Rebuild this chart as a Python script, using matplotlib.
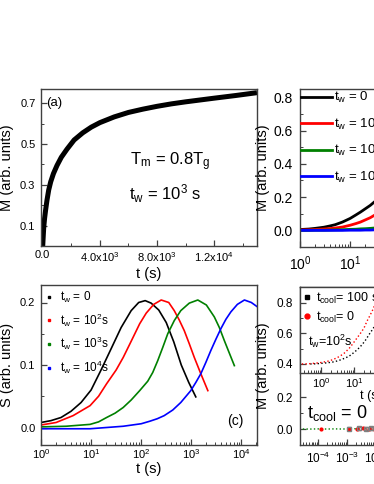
import matplotlib
matplotlib.use('Agg')
import matplotlib.pyplot as plt
from matplotlib.lines import Line2D
from matplotlib.ticker import FixedLocator, FixedFormatter, MultipleLocator, LogLocator

plt.rcParams['font.family'] = ['Liberation Sans', 'DejaVu Sans']
plt.rcParams['mathtext.fontset'] = 'custom'
plt.rcParams['mathtext.rm'] = 'Liberation Sans'
plt.rcParams['mathtext.it'] = 'Liberation Sans'
plt.rcParams['mathtext.default'] = 'regular'

# ---- panel (a): M vs t, linear ----
a_t = [0, 30, 70, 130, 200, 300, 420, 560, 750, 1000, 1300, 1700, 2200, 2800, 3400, 4000,
       5000, 6000, 7000, 8000, 9000, 10000, 11000, 12000, 13500, 15000]
a_m = [0.0, 0.04, 0.09, 0.135, 0.175, 0.225, 0.275, 0.315, 0.355, 0.395, 0.435, 0.475, 0.52,
       0.555, 0.583, 0.605, 0.633, 0.655, 0.671, 0.685, 0.697, 0.707, 0.716, 0.725, 0.738, 0.752]
a_xticks = [0, 4000, 8000, 12000]
a_xlabels = ['0.0', r'4.0x10$^3$', r'8.0x10$^3$', r'1.2x10$^4$']
a_yticks = [0.1, 0.3, 0.5, 0.7]

# ---- panel (b): M vs t for several t_w ----
b_t = [1, 1.5, 2, 3, 4, 5, 7, 10, 13, 16, 20, 25, 30, 40, 50, 70, 100, 300, 1000, 3000, 10000, 20000]
b_m0 = [0.005, 0.008, 0.012, 0.019, 0.027, 0.034, 0.05, 0.072, 0.093, 0.11, 0.13, 0.15, 0.17,
        0.2, 0.23, 0.28, 0.33, 0.5, 0.65, 0.72, 0.76, 0.77]
b_m2 = [0.002, 0.003, 0.005, 0.008, 0.011, 0.014, 0.02, 0.031, 0.041, 0.05, 0.063, 0.076, 0.09,
        0.11, 0.13, 0.17, 0.22, 0.4, 0.58, 0.68, 0.73, 0.75]
b_m3 = [0.0, 0.0, 0.001, 0.001, 0.002, 0.003, 0.004, 0.006, 0.007, 0.009, 0.01, 0.012, 0.014,
        0.018, 0.022, 0.03, 0.04, 0.1, 0.25, 0.45, 0.6, 0.65]
b_m4 = [0.0, 0.0, 0.0, 0.0, 0.0, 0.0, 0.0, 0.001, 0.001, 0.001, 0.002, 0.002, 0.003,
        0.004, 0.005, 0.007, 0.01, 0.025, 0.07, 0.17, 0.35, 0.45]
b_yticks = [0.0, 0.2, 0.4, 0.6, 0.8]

# ---- panel (c): S = dM/dlog t ----
c_t0 = [1, 1.58, 2.51, 3.98, 6.31, 10, 15.8, 25.1, 39.8, 63.1, 89.1, 120, 158, 224, 316, 447,
        631, 891, 1230]
c_s0 = [0.008, 0.011, 0.016, 0.026, 0.04, 0.06, 0.092, 0.126, 0.16, 0.187, 0.2, 0.203, 0.199,
        0.188, 0.168, 0.137, 0.1, 0.072, 0.049]
c_t2 = [1, 2, 4.37, 9.55, 14.1, 20.4, 31.6, 43.7, 63.1, 93.3, 126, 178, 251, 355, 457, 575,
        724, 912, 1150, 1550, 2140]
c_s2 = [0.004, 0.008, 0.019, 0.035, 0.05, 0.07, 0.092, 0.112, 0.138, 0.166, 0.183, 0.197,
        0.204, 0.2, 0.187, 0.172, 0.155, 0.134, 0.112, 0.086, 0.059]
c_t3 = [1, 3.16, 9.55, 14.1, 20.4, 30.2, 43.7, 63.1, 93.3, 135, 170, 214, 269, 339, 457, 617,
        912, 1350, 2000, 2880, 3630, 4570, 5750, 7240]
c_s3 = [0.001, 0.002, 0.005, 0.009, 0.016, 0.023, 0.032, 0.044, 0.059, 0.074, 0.088, 0.107,
        0.128, 0.15, 0.171, 0.187, 0.199, 0.204, 0.196, 0.177, 0.16, 0.139, 0.119, 0.099]
c_t4 = [1, 9.55, 43.7, 100, 148, 209, 288, 427, 617, 977, 1230, 1550, 1950, 2450, 3090, 3890,
        4900, 6170, 8320, 11500, 15800, 20900]
c_s4 = [-0.002, -0.002, 0.002, 0.006, 0.01, 0.014, 0.019, 0.028, 0.04, 0.059, 0.072, 0.086,
        0.104, 0.123, 0.141, 0.158, 0.173, 0.185, 0.197, 0.204, 0.2, 0.193]
c_yticks = [0.0, 0.1, 0.2]

tw_labels = [r'$t_w$ = 0', r'$t_w$ = 10$^2$s', r'$t_w$ = 10$^3$s', r'$t_w$ = 10$^4$s']
tw_colors = ['black', 'red', 'green', 'blue']

# ---- panel (d): t_cool = 0 data near zero, inset with t_cool comparison ----
d_green_t = [3e-5, 6e-5, 1e-4, 2e-4, 4e-4, 7e-4, 1e-3, 2e-3, 4e-3, 7e-3, 1e-2, 3e-2, 1e-1]
d_green_m = [0.0, 0.0, 0.001, 0.0, 0.001, 0.0, 0.001, 0.002, 0.001, 0.002, 0.001, 0.002, 0.001]
d_red_t = [1.3e-4, 1.2e-3, 2.2e-3, 3.5e-3, 6e-3, 9e-3, 2e-2]
d_red_m = [0.0, 0.003, -0.002, 0.004, 0.001, 0.003, 0.002]
d_sq_t = [1.2e-3, 2.6e-3, 4.5e-3, 7e-3, 1.3e-2]
d_sq_m = [0.003, 0.004, 0.002, 0.005, 0.003]
d_sq_err = [0.008, 0.008, 0.008, 0.008, 0.008]
d_yticks = [0.0, 0.2]

ins_t_red = [0.26, 0.4, 0.6, 0.9, 1.17, 1.6, 2.2, 3, 3.8, 5, 7, 9, 12, 15, 18, 21, 24, 30, 38,
             50, 70, 100]
ins_m_red = [0.400, 0.401, 0.404, 0.408, 0.412, 0.418, 0.427, 0.44, 0.452, 0.47, 0.5, 0.53,
             0.567, 0.595, 0.62, 0.645, 0.675, 0.715, 0.76, 0.83, 0.9, 0.95]
ins_t_blk = [0.47, 0.7, 1.17, 1.6, 2.2, 3, 3.8, 5, 7, 9, 12, 15, 18, 21, 24, 30, 38, 50, 70, 100]
ins_m_blk = [0.400, 0.401, 0.405, 0.408, 0.412, 0.419, 0.426, 0.436, 0.45, 0.468, 0.49, 0.51,
             0.53, 0.548, 0.567, 0.6, 0.632, 0.68, 0.75, 0.82]
ins_yticks = [0.4, 0.6, 0.8]

SPINE = '#404040'
W, H = 374, 484


def style(ax, size, pad_x=3, pad_y=4):
    for s in ax.spines.values():
        s.set_color(SPINE)
        s.set_linewidth(1.0)
    ax.tick_params(which='both', direction='in', color=SPINE, top=False, right=False)
    ax.tick_params(which='major', length=4, width=0.9, labelsize=size)
    ax.tick_params(axis='x', pad=pad_x)
    ax.tick_params(axis='y', pad=pad_y)
    ax.tick_params(which='minor', length=2, width=0.7)


def log_ticks(ax):
    ax.xaxis.set_major_locator(LogLocator(base=10, numticks=20))
    ax.xaxis.set_minor_locator(LogLocator(base=10, subs=range(2, 10), numticks=20))


def box(l, t, r, b):
    # pixel box (top-down) -> figure fraction
    return [l / W, 1 - b / H, (r - l) / W, (b - t) / H]


fig = plt.figure(figsize=(W / 100, H / 100), dpi=100)

# (a)
ax = fig.add_axes(box(41, 89, 257, 246))
ax.plot(a_t, a_m, color='black', lw=3.6, solid_capstyle='butt')
ax.set_xlim(-120, 15000)
ax.set_ylim(0, 0.77)
ax.xaxis.set_major_locator(FixedLocator(a_xticks))
ax.xaxis.set_major_formatter(FixedFormatter(a_xlabels))
ax.xaxis.set_minor_locator(MultipleLocator(2000))
ax.yaxis.set_major_locator(FixedLocator(a_yticks))
ax.yaxis.set_minor_locator(MultipleLocator(0.1))
style(ax, 8)
ax.set_xlabel('t (s)', fontsize=10.5, labelpad=2)
ax.set_ylabel('M (arb. units)', fontsize=10.5)
ax.yaxis.set_label_coords(-0.125, 0.5)
ax.text(0.026, 0.91, '(a)', transform=ax.transAxes, fontsize=9.5, va='center')
ax.text(0.597, 0.537, r'$T_m$ = 0.8$T_g$', transform=ax.transAxes, fontsize=12, ha='center', va='center')
ax.text(0.574, 0.336, r'$t_w$ = 10$^3$ s', transform=ax.transAxes, fontsize=12, ha='center', va='center')

# (b)
ax = fig.add_axes(box(300, 89, 516, 247))
for m, c, lab in zip([b_m0, b_m2, b_m3, b_m4], tw_colors, tw_labels):
    ax.plot(b_t, m, color=c, lw=2, label=lab)
ax.set_xscale('log')
log_ticks(ax)
ax.set_xlim(1, 2e4)
ax.set_ylim(-0.1, 0.85)
ax.yaxis.set_major_locator(FixedLocator(b_yticks))
ax.yaxis.set_minor_locator(MultipleLocator(0.1))
style(ax, 10, pad_x=5, pad_y=5)
ax.set_ylabel('M (arb. units)', fontsize=10.5)
ax.yaxis.set_label_coords(-0.14, 0.5)
ax.legend(loc='upper left', bbox_to_anchor=(0, 1), frameon=False, fontsize=9.5,
          borderaxespad=0, borderpad=0.1, handlelength=2.3, handletextpad=0.2,
          labelspacing=0.7)

# (c)
ax = fig.add_axes(box(41, 285, 257, 445))
for tt, ss, c in zip([c_t0, c_t2, c_t3, c_t4], [c_s0, c_s2, c_s3, c_s4], tw_colors):
    ax.plot(tt, ss, color=c, lw=1.2)
ax.set_xscale('log')
log_ticks(ax)
ax.set_xlim(1, 2.05e4)
ax.set_ylim(-0.028, 0.228)
ax.yaxis.set_major_locator(FixedLocator(c_yticks))
ax.yaxis.set_minor_locator(MultipleLocator(0.05))
style(ax, 8, pad_x=1.5)
ax.set_xlabel('t (s)', fontsize=10.5, labelpad=1)
ax.set_ylabel('S (arb. units)', fontsize=10.5)
ax.yaxis.set_label_coords(-0.125, 0.5)
handles = [Line2D([], [], ls='none', marker='s', ms=2, color=c) for c in tw_colors]
ax.legend(handles, tw_labels, loc='upper left', bbox_to_anchor=(0, 1), frameon=False,
          fontsize=8.5, borderaxespad=0, borderpad=0.4, handlelength=0.5,
          handletextpad=0.7, labelspacing=0.55)
ax.text(0.90, 0.152, '(c)', transform=ax.transAxes, fontsize=10, ha='center', va='center')

# (d)
ax = fig.add_axes(box(300, 287, 516, 445))
ax.plot(d_green_t, d_green_m, color='green', lw=1, ls=':')
ax.errorbar(d_sq_t, d_sq_m, yerr=d_sq_err, ls='none', marker='s', ms=3.5, mfc='none',
            mec='#808080', ecolor='#808080', elinewidth=0.8, capsize=1.5)
ax.plot(d_red_t, d_red_m, ls='none', marker='o', ms=2, color='red')
ax.set_xscale('log')
log_ticks(ax)
ax.set_xlim(2.4e-5, 7e2)
ax.set_ylim(-0.1, 0.89)
ax.yaxis.set_major_locator(FixedLocator(d_yticks))
ax.yaxis.set_minor_locator(FixedLocator([0.1]))
style(ax, 8.5, pad_x=4, pad_y=5)
ax.set_ylabel('M (arb. units)', fontsize=10.5)
ax.yaxis.set_label_coords(-0.14, 0.5)
ax.text(0.031, 0.203, r'$t_{cool}$ = 0', transform=ax.transAxes, fontsize=13, va='center')

ins = fig.add_axes(box(300, 287, 441, 373))
ins.plot(ins_t_blk, ins_m_blk, color='black', lw=1, ls=':')
ins.plot(ins_t_red, ins_m_red, color='red', lw=1, ls=':')
ins.set_xscale('log')
log_ticks(ins)
ins.set_xlim(0.23, 10 ** 3.63)
ins.set_ylim(0.341, 0.902)
ins.yaxis.set_major_locator(FixedLocator(ins_yticks))
ins.yaxis.set_minor_locator(MultipleLocator(0.1))
style(ins, 8.5, pad_x=2, pad_y=5)
ins.tick_params(axis='x', labelsize=8)
ins.set_xlabel('t (s)', fontsize=9, labelpad=0)
ins_handles = [Line2D([], [], ls='none', marker='s', ms=3.5, color='black'),
               Line2D([], [], ls='none', marker='o', ms=3.5, color='red')]
ins.legend(ins_handles, [r'$t_{cool}$= 100 s', r'$t_{cool}$= 0'], loc='upper left',
           bbox_to_anchor=(0, 1), frameon=False, fontsize=9, borderaxespad=0,
           borderpad=0.3, handlelength=0.5, handletextpad=0.5, labelspacing=0.3)
ins.text(0.055, 0.365, r'$t_w$=10$^2$s', transform=ins.transAxes, fontsize=9, va='center')

fig.savefig('out.png', dpi=100)
